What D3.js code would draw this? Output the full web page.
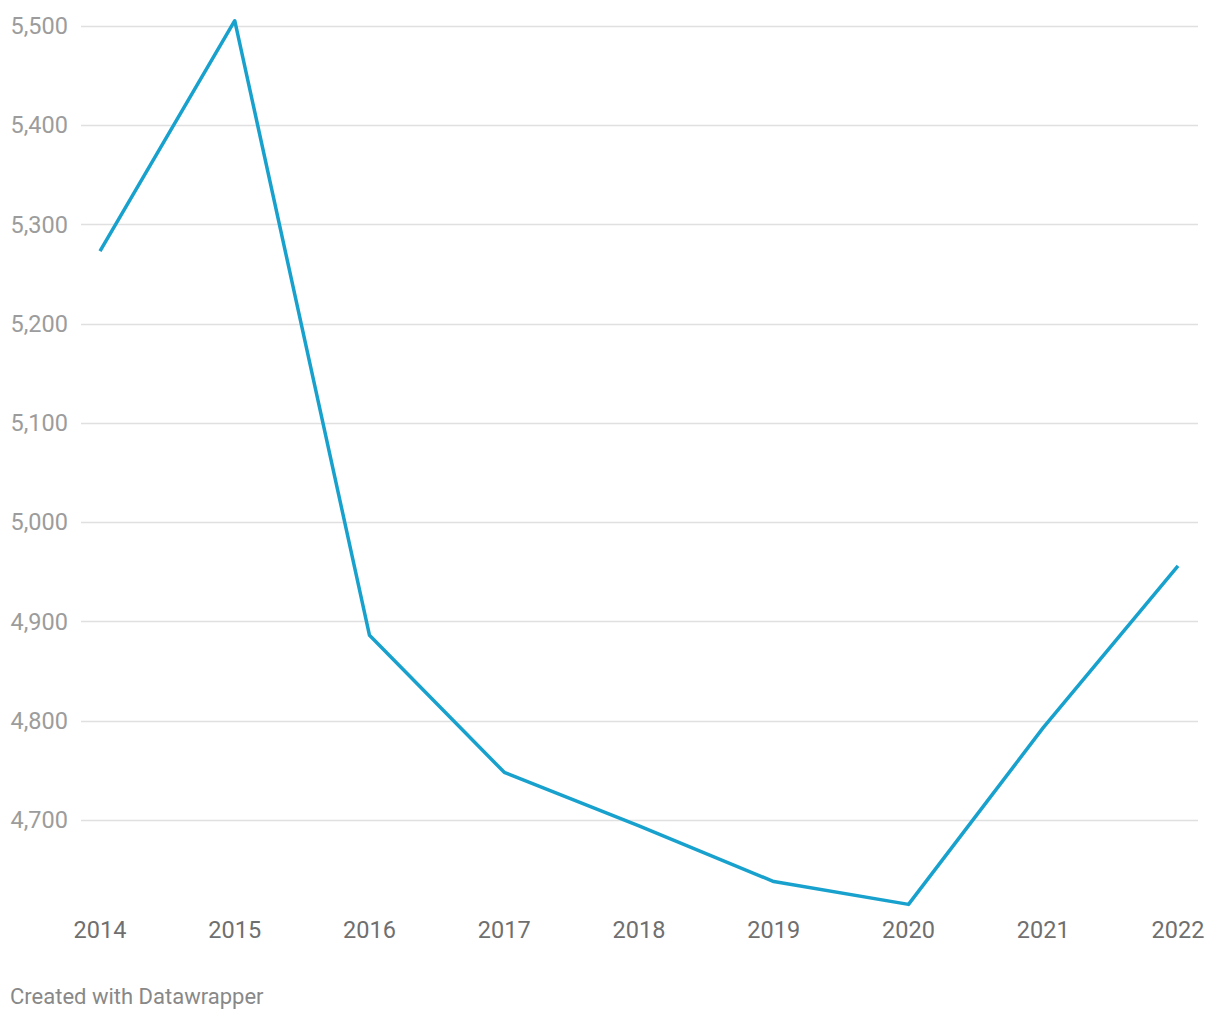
<!DOCTYPE html>
<html>
<head>
<meta charset="utf-8">
<script src="https://cdn.jsdelivr.net/npm/d3@7"></script>
<style>
  html, body { margin: 0; padding: 0; background: #fff; }
  svg { display: block; font-family: Roboto, "Noto Sans", sans-serif; }
</style>
</head>
<body>
<svg id="chart" width="1220" height="1020"></svg>
<script>
const years = [2014, 2015, 2016, 2017, 2018, 2019, 2020, 2021, 2022];
const values = [5273, 5505, 4886, 4748, 4694, 4638, 4615, 4793, 4956];
const yTicks = [4700, 4800, 4900, 5000, 5100, 5200, 5300, 5400, 5500];
const credit = "Created with Datawrapper";

const svg = d3.select("#chart");
const x = d3.scalePoint().domain(years).range([100, 1178]);
const y = d3.scaleLinear().domain([4700, 5500]).range([820, 25.7]);
const fmt = d3.format(",");

const grid = svg.append("g");
yTicks.forEach(t => {
  grid.append("line")
    .attr("x1", 81).attr("x2", 1198)
    .attr("y1", Math.round(y(t)) + 0.5).attr("y2", Math.round(y(t)) + 0.5)
    .attr("stroke", "#e0e0e0").attr("stroke-width", 1.5);
  grid.append("text")
    .attr("x", 68).attr("y", y(t))
    .attr("dy", "0.35em")
    .attr("text-anchor", "end")
    .attr("font-size", 23.5)
    .attr("fill", "#9c9c9c")
    .text(fmt(t));
});

const xg = svg.append("g");
years.forEach(yr => {
  xg.append("text")
    .attr("x", x(yr)).attr("y", 938)
    .attr("text-anchor", "middle")
    .attr("font-size", 23.5)
    .attr("fill", "#6f6f6f")
    .text(yr);
});

const line = d3.line().x((d, i) => x(years[i])).y(d => y(d));
svg.append("path")
  .datum(values)
  .attr("d", line)
  .attr("fill", "none")
  .attr("stroke", "#18a1cd")
  .attr("stroke-width", 3.5)
  .attr("stroke-linejoin", "round");

svg.append("text")
  .attr("x", 10).attr("y", 1004)
  .attr("font-size", 22)
  .attr("fill", "#888")
  .text(credit);
</script>
</body>
</html>
